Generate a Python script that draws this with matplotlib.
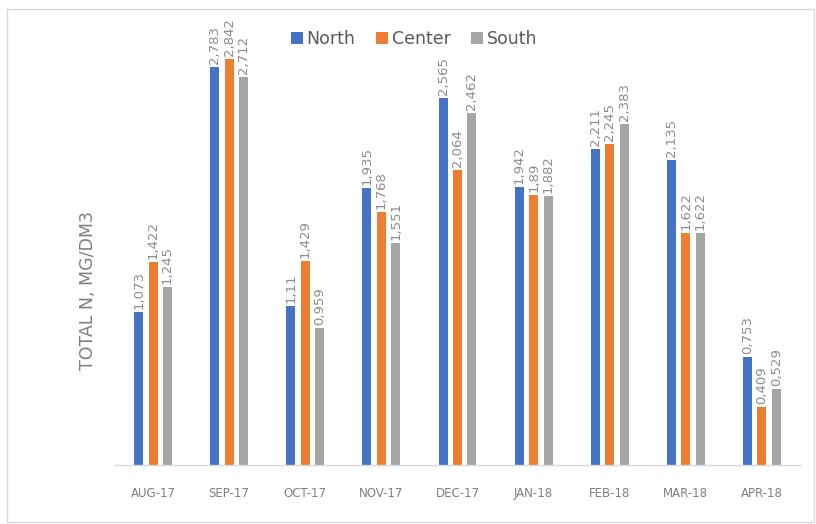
import matplotlib
matplotlib.use("Agg")
import matplotlib.pyplot as plt
import numpy as np
from matplotlib.patches import Rectangle

months = ["AUG-17", "SEP-17", "OCT-17", "NOV-17", "DEC-17",
          "JAN-18", "FEB-18", "MAR-18", "APR-18"]
north = [1.073, 2.783, 1.11, 1.935, 2.565, 1.942, 2.211, 2.135, 0.753]
center = [1.422, 2.842, 1.429, 1.768, 2.064, 1.89, 2.245, 1.622, 0.409]
south = [1.245, 2.712, 0.959, 1.551, 2.462, 1.882, 2.383, 1.622, 0.529]
series = [("North", north, "#4472C4"),
          ("Center", center, "#ED7D31"),
          ("South", south, "#A5A5A5")]

W, H = 816, 524
fig = plt.figure(figsize=(W / 100, H / 100), dpi=100)
fig.patch.set_facecolor("white")

# light frame around the chart
fig.add_artist(Rectangle((7 / W, 1 - 522 / H), 807 / W, 513 / H,
                         transform=fig.transFigure, fill=False,
                         edgecolor="#d9d9d9", linewidth=1))

ax = fig.add_axes([115 / W, 1 - 465 / H, 685 / W, 429 / H])
x = np.arange(len(months))
width = 0.118
step = 0.19

for i, (name, vals, color) in enumerate(series):
    pos = x + (i - 1) * step
    ax.bar(pos, vals, width=width, color=color, label=name, zorder=2)
    for px, v in zip(pos, vals):
        txt = f"{v:g}".replace(".", ",")
        ax.text(px, v + 0.02, txt, rotation=90, ha="center", va="bottom",
                fontsize=9.5, color="#8c8c8c", clip_on=False)

ax.set_xlim(-0.5, len(months) - 0.5)
ax.set_ylim(0, 3.0)
ax.set_xticks(x)
ax.set_xticklabels(months, fontsize=8.5, color="#7f7f7f")
ax.tick_params(axis="x", length=0, pad=16)
ax.set_yticks([])
for s in ["top", "right", "left"]:
    ax.spines[s].set_visible(False)
ax.spines["bottom"].set_color("#d9d9d9")
ax.spines["bottom"].set_linewidth(1)

fig.text(88 / W, 1 - 290 / H, "TOTAL N, MG/DM3", rotation=90,
         ha="center", va="center", fontsize=12.5, color="#7f7f7f")

leg = ax.legend(loc="center", bbox_to_anchor=(414 / W, 1 - 39 / H),
                bbox_transform=fig.transFigure, ncol=3, frameon=False,
                fontsize=12.5, handlelength=0.7, handleheight=0.7,
                handletextpad=0.2, columnspacing=1.2)
for t in leg.get_texts():
    t.set_color("#595959")

fig.savefig("out.png", dpi=100, facecolor="white")
